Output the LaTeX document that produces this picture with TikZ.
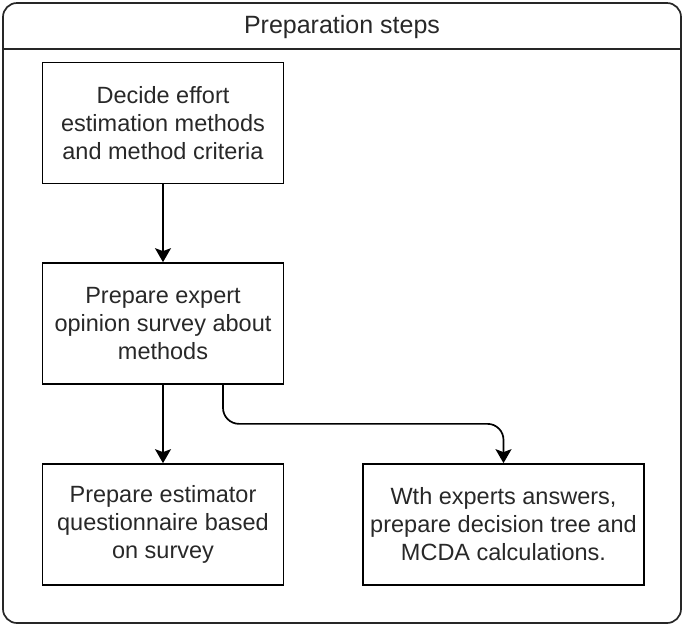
\documentclass[tikz,border=0pt]{standalone}
\usepackage{fontspec}
\setmainfont{Liberation Sans}
\usetikzlibrary{arrows.meta}
\definecolor{txt}{RGB}{40,40,40}
\begin{document}
\begin{tikzpicture}[x=1pt,y=-1pt,
  stepbox/.style={draw=black, line width=1.7pt, rectangle, minimum width=241pt, minimum height=121pt,
    align=center, text=txt, font=\fontsize{23.5}{28}\selectfont, inner sep=0pt},
  arr/.style={draw=black, line width=1.7pt, -{Stealth[length=14pt,width=16pt,inset=3pt]}}
]
\useasboundingbox (0,0) rectangle (683,625);
\draw[line width=1.7pt, draw=black!85, rounded corners=14pt] (3,3) rectangle (681,623);
\draw[line width=1.7pt, draw=black!85] (3,49) -- (681,49);
\node[text=txt, font=\fontsize{25}{28}\selectfont] (title) at (342,27) {Preparation steps};
\node[stepbox] (b1) at (163,123) {Decide effort\\estimation methods\\and method criteria};
\node[stepbox] (b2) at (163,323.5) {Prepare expert\\opinion survey about\\methods};
\node[stepbox] (b3) at (163,524.5) {Prepare estimator\\questionnaire based\\on survey};
\node[stepbox, minimum width=281pt] (b4) at (503.5,524.5) {Wth experts answers,\\prepare decision tree and\\MCDA calculations.};
\draw[arr] (b1) -- (b2);
\draw[arr] (b2) -- (b3);
\coordinate (s2) at ([xshift=60pt]b2.south);
\draw[arr, rounded corners=16pt] (s2) -- ++(0,39) -| (b4.north);
\end{tikzpicture}
\end{document}
